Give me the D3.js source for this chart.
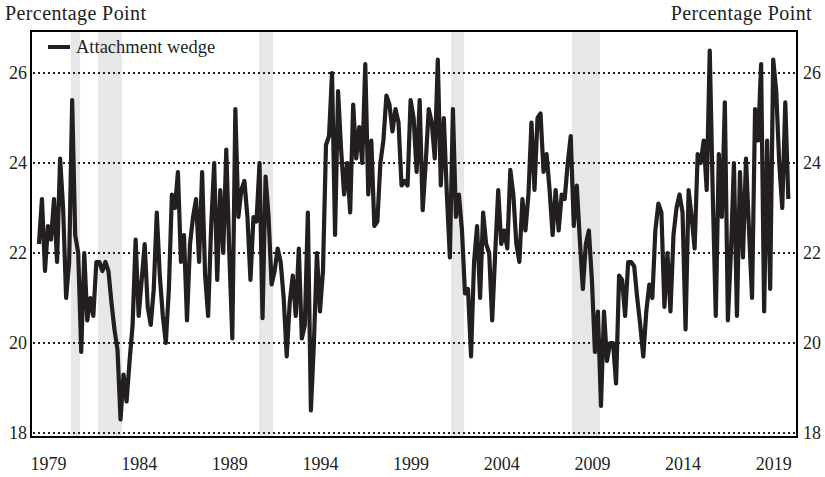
<!DOCTYPE html>
<html><head><meta charset="utf-8">
<script src="https://cdn.jsdelivr.net/npm/d3@7"></script>
<style>
body{margin:0;background:#fff}
svg{display:block}
text{font-family:"Liberation Serif","Times New Roman",serif;fill:#231f20}
</style>
</head><body><div id="chart"></div>
<script>
// ---- data ----
const seriesName = "Attachment wedge";
const axisTitle = "Percentage Point";
const startYear = 1978.5;      // first observation
const stepYears = 1/6;          // spacing between observations
const wedge = [
 22.2,23.2,21.6,22.6,22.3,23.2,21.8,24.1,23.0,21.0,21.8,25.4,22.4,22.0,19.8,22.0,20.5,21.0,20.6,21.8,21.8,21.6,21.8,21.6,
 20.9,20.3,19.85,18.3,19.3,18.7,19.6,20.4,22.3,20.6,21.4,22.2,20.8,20.4,21.2,22.9,21.5,20.6,20.0,21.2,23.3,23.0,23.8,21.8,22.4,20.5,
 22.2,22.8,23.2,21.8,23.8,21.5,20.6,22.6,24.0,21.4,23.4,22.0,24.3,22.0,20.1,25.2,22.8,23.4,23.6,22.8,21.4,22.8,22.7,24.0,
 20.55,23.7,22.8,21.3,21.6,22.1,21.8,21.0,19.7,20.9,21.5,20.6,22.1,20.1,20.4,22.9,18.5,20.0,22.0,20.7,21.6,24.4,24.6,26.0,22.4,25.6,
 24.3,23.3,24.0,22.9,25.3,24.1,24.8,24.0,26.2,23.3,24.5,22.6,22.7,24.0,24.5,25.5,25.3,24.7,25.2,24.9,23.5,23.6,23.5,25.4,25.0,23.8,
 25.4,22.95,24.0,25.2,24.9,24.1,26.3,23.5,25.0,23.3,21.9,25.2,22.8,23.3,22.5,21.1,21.2,19.7,21.8,22.6,21.0,22.9,22.2,22.0,20.5,
 22.0,23.4,22.2,22.5,22.1,23.85,23.3,22.2,21.8,23.2,22.5,23.3,24.9,23.4,25.0,25.1,23.8,24.2,23.4,22.4,23.4,22.5,23.3,23.2,24.0,24.6,
 22.6,23.5,22.3,21.2,22.2,22.5,21.4,19.8,20.7,18.6,20.7,19.6,20.0,20.0,19.1,21.5,21.4,20.6,21.8,21.8,21.7,21.0,20.4,19.7,20.7,21.3,
 21.0,22.5,23.1,22.9,20.8,22.0,20.7,22.4,23.0,23.3,22.9,20.3,23.4,22.8,22.1,24.2,24.0,24.5,23.4,26.5,23.3,20.6,24.2,22.8,25.35,
 20.5,22.0,24.0,20.6,23.8,21.9,24.1,22.5,21.0,25.2,24.5,26.2,20.7,24.5,21.2,26.3,25.6,24.0,23.0,25.35,23.2
];
const recessionStart = [1980.27, 1981.76, 1990.64, 2001.23, 2007.90];
const recessionEnd   = [1980.77, 1983.08, 1991.41, 2001.95, 2009.45];
const yTicks = [18, 20, 22, 24, 26];
const xTicks = [1979, 1984, 1989, 1994, 1999, 2004, 2009, 2014, 2019];

// ---- layout ----
const W = 825, H = 477;
const frame = {left: 31, right: 797, top: 31, bottom: 437};
const serif = '"Liberation Serif","Times New Roman",serif';

const svg = d3.select("#chart").append("svg").attr("width", W).attr("height", H);

const x = d3.scaleLinear().domain([1979, 2019]).range([48, 773.2]);
const y = d3.scaleLinear().domain([18, 26]).range([433, 73]);

// recession shading
svg.append("g").selectAll("rect").data(recessionStart).join("rect")
  .attr("x", d => x(d))
  .attr("width", (d, i) => x(recessionEnd[i]) - x(d))
  .attr("y", frame.top).attr("height", frame.bottom - frame.top)
  .attr("fill", "#e7e7ea");

// dotted gridlines
svg.append("g").selectAll("line").data(yTicks).join("line")
  .attr("x1", frame.left + 2).attr("x2", frame.right - 2)
  .attr("y1", d => y(d)).attr("y2", d => y(d))
  .attr("stroke", "#231f20").attr("stroke-width", 2)
  .attr("stroke-dasharray", "2,3");

// series line
const line = d3.line()
  .x((d, i) => x(startYear + i * stepYears))
  .y(d => y(d));
svg.append("path").datum(wedge)
  .attr("d", line)
  .attr("fill", "none").attr("stroke", "#231f20")
  .attr("stroke-width", 4.2).attr("stroke-linejoin", "round");

// frame
svg.append("rect")
  .attr("x", frame.left).attr("y", frame.top)
  .attr("width", frame.right - frame.left).attr("height", frame.bottom - frame.top)
  .attr("fill", "none").attr("stroke", "#000").attr("stroke-width", 2);

// axes
const fmt = d3.format("d");
const xAxis = svg.append("g").attr("transform", "translate(0,457)")
  .call(d3.axisBottom(x).tickValues(xTicks).tickFormat(fmt).tickSize(0).tickPadding(0));
const yLeft = svg.append("g").attr("transform", "translate(27,0)")
  .call(d3.axisLeft(y).tickValues(yTicks).tickFormat(fmt).tickSize(0).tickPadding(0));
const yRight = svg.append("g").attr("transform", "translate(803,0)")
  .call(d3.axisRight(y).tickValues(yTicks).tickFormat(fmt).tickSize(0).tickPadding(0));
[xAxis, yLeft, yRight].forEach(g => {
  g.select(".domain").remove();
  g.selectAll("text").attr("fill", "#231f20")
    .style("font-family", serif)
    .style("font-size", "18px");
});

// titles
svg.append("text").attr("x", 5).attr("y", 20).style("font-size", "20px")
  .style("letter-spacing", "0.4px").text(axisTitle);
svg.append("text").attr("x", 812).attr("y", 20).attr("text-anchor", "end").style("font-size", "20px")
  .style("letter-spacing", "0.4px").text(axisTitle);

// legend
svg.append("line").attr("x1", 48).attr("x2", 70).attr("y1", 47).attr("y2", 47)
  .attr("stroke", "#231f20").attr("stroke-width", 4);
svg.append("text").attr("x", 76).attr("y", 53).style("font-size", "18.5px").text(seriesName);
</script>
</body></html>
